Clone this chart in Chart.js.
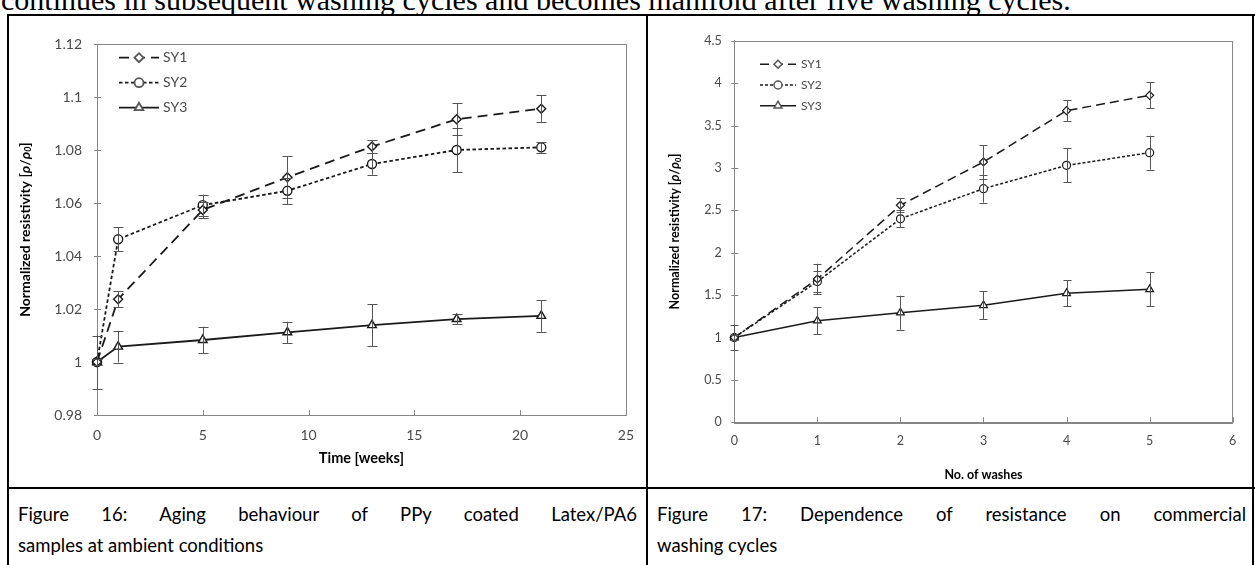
<!DOCTYPE html>
<html>
<head>
<meta charset="utf-8">
<script src="https://cdn.jsdelivr.net/npm/chart.js@4/dist/chart.umd.min.js"></script>
<style>
  html, body { margin: 0; padding: 0; background: #fff; }
  body { width: 1255px; height: 565px; position: relative; overflow: hidden; font-family: Lato, sans-serif; }
  .rule { position: absolute; background: #000; }
  #lead { position: absolute; left: 1px; top: -15px; font: 30px/30px "Liberation Serif", serif; white-space: nowrap; color: #000; }
  .cell { position: absolute; }
  .cell canvas { display: block; }
  .cap { position: absolute; font: 18.5px/31px Lato, sans-serif; color: #000; }
  .cap .l1 { text-align: justify; text-align-last: justify; }
</style>
</head>
<body>
<div id="lead">continues in subsequent washing cycles and becomes manifold after five washing cycles.</div>

<!-- table rules -->
<div class="rule" style="left:7px;top:14px;width:1248px;height:2px"></div>
<div class="rule" style="left:7px;top:14px;width:2px;height:560px"></div>
<div class="rule" style="left:646px;top:14px;width:2px;height:560px"></div>
<div class="rule" style="left:1252px;top:14px;width:2px;height:560px"></div>
<div class="rule" style="left:7px;top:487px;width:1248px;height:1.5px"></div>

<div class="cell" style="left:9px;top:16px;width:637px;height:471px"><canvas id="aging" width="637" height="471"></canvas></div>
<div class="cell" style="left:648px;top:16px;width:604px;height:471px"><canvas id="wash" width="604" height="471"></canvas></div>

<div class="cap" style="left:18px;top:499px;width:619px">
  <div class="l1">Figure 16: Aging behaviour of PPy coated Latex/PA6</div>
  <div>samples at ambient conditions</div>
</div>
<div class="cap" style="left:657px;top:499px;width:589px">
  <div class="l1">Figure 17: Dependence of resistance on commercial</div>
  <div>washing cycles</div>
</div>

<script>
// ---- Figure 16: ageing at ambient conditions ----
const weeks        = [0, 1, 5, 9, 13, 17, 21];
const agingSY1     = [1.000, 1.0237, 1.0574, 1.0697, 1.0813, 1.0916, 1.0956];
const agingSY1Err  = [0.001, 0.003, 0.003, 0.008, 0.0025, 0.006, 0.005];
const agingSY2     = [1.000, 1.0463, 1.0592, 1.0646, 1.0747, 1.0800, 1.0810];
const agingSY2Err  = [0.001, 0.0045, 0.004, 0.005, 0.004, 0.0083, 0.002];
const agingSY3     = [1.000, 1.0058, 1.0083, 1.0112, 1.0139, 1.0162, 1.0174];
const agingSY3Err  = [0.010, 0.006, 0.005, 0.004, 0.008, 0.002, 0.006];
const agingXTicks  = [0, 5, 10, 15, 20, 25];
const agingYTicks  = [0.98, 1, 1.02, 1.04, 1.06, 1.08, 1.1, 1.12];

// ---- Figure 17: commercial washing cycles ----
const washes       = [0, 1, 2, 3, 4, 5];
const washSY1      = [1.0, 1.69, 2.56, 3.07, 3.675, 3.856];
const washSY1Err   = [0.03, 0.18, 0.08, 0.2, 0.12, 0.155];
const washSY2      = [1.0, 1.66, 2.40, 2.755, 3.03, 3.18];
const washSY2Err   = [0.03, 0.12, 0.1, 0.165, 0.2, 0.2];
const washSY3      = [1.0, 1.198, 1.293, 1.38, 1.521, 1.568];
const washSY3Err   = [0.15, 0.16, 0.2, 0.165, 0.153, 0.2];
const washXTicks   = [0, 1, 2, 3, 4, 5, 6];
const washYTicks   = [0, 0.5, 1, 1.5, 2, 2.5, 3, 3.5, 4, 4.5];

const seriesNames  = ['SY1', 'SY2', 'SY3'];

const INK = '#1a1a1a';
const AXIS = '#868686';
const LABEL = '#4a4a4a';

const fmt = v => String(Math.round(v * 1000) / 1000);

// vertical error bars with caps, drawn over the series
const errorBars = {
  id: 'errorBars',
  afterDatasetsDraw(chart, args, opts) {
    const { ctx } = chart;
    const ys = chart.scales.y;
    ctx.save();
    ctx.strokeStyle = opts.color;
    ctx.lineWidth = 1;
    chart.data.datasets.forEach((ds, di) => {
      const meta = chart.getDatasetMeta(di);
      meta.data.forEach((pt, i) => {
        const v = ds.data[i].y, e = ds.errors[i];
        const x = Math.round(pt.x) + 0.5;
        const yt = ys.getPixelForValue(v + e), yb = ys.getPixelForValue(v - e);
        ctx.beginPath();
        ctx.moveTo(x, yt); ctx.lineTo(x, yb);
        ctx.moveTo(x - opts.cap, Math.round(yt) + 0.5); ctx.lineTo(x + opts.cap, Math.round(yt) + 0.5);
        ctx.moveTo(x - opts.cap, Math.round(yb) + 0.5); ctx.lineTo(x + opts.cap, Math.round(yb) + 0.5);
        ctx.stroke();
      });
    });
    ctx.restore();
  }
};

// plot frame and tick marks
const frame = {
  id: 'frame',
  beforeDatasetsDraw(chart, args, opts) {
    const { ctx, chartArea: a } = chart;
    ctx.save();
    ctx.strokeStyle = AXIS;
    ctx.lineWidth = 1;
    ctx.strokeRect(Math.round(a.left) + 0.5, Math.round(a.top) + 0.5,
                   Math.round(a.right - a.left), Math.round(a.bottom - a.top));
    ctx.beginPath();
    chart.scales.x.ticks.forEach(t => {
      const x = Math.round(chart.scales.x.getPixelForValue(t.value)) + 0.5;
      ctx.moveTo(x, a.bottom); ctx.lineTo(x, a.bottom - 5);
    });
    chart.scales.y.ticks.forEach(t => {
      const y = Math.round(chart.scales.y.getPixelForValue(t.value)) + 0.5;
      ctx.moveTo(a.left - 3, y); ctx.lineTo(a.left + 4, y);
    });
    ctx.stroke();
    ctx.restore();
  }
};

// legend: dashed line sample with the marker in its middle
const lineLegend = {
  id: 'lineLegend',
  afterDraw(chart, args, o) {
    const { ctx, chartArea: a } = chart;
    ctx.save();
    chart.data.datasets.forEach((ds, i) => {
      const x0 = a.left + o.dx, y = a.top + o.dy + i * o.step;
      ctx.strokeStyle = INK;
      ctx.lineWidth = ds.borderWidth;
      ctx.setLineDash(ds.borderDash || []);
      ctx.beginPath(); ctx.moveTo(x0, y); ctx.lineTo(x0 + o.len, y); ctx.stroke();
      ctx.setLineDash([]);
      ctx.fillStyle = '#fff';
      ctx.strokeStyle = '#555';
      Chart.helpers.drawPoint(ctx, { pointStyle: ds.pointStyle, radius: ds.pointRadius, rotation: 0, borderWidth: 1 },
                              x0 + o.len / 2, y);
      ctx.fillStyle = LABEL;
      ctx.font = o.size + 'px Lato';
      ctx.textBaseline = 'middle';
      ctx.textAlign = 'left';
      ctx.fillText(ds.label, x0 + o.len + o.gap, y);
    });
    ctx.restore();
  }
};

// rotated y title with italic rho and subscript 0
const rhoTitle = {
  id: 'rhoTitle',
  afterDraw(chart, args, o) {
    const { ctx, chartArea: a } = chart;
    const s = o.size;
    const parts = [
      { t: 'Normalized resistivity [', f: `bold ${s}px Lato` },
      { t: 'ρ', f: `italic bold ${s}px Lato` },
      { t: '/', f: `bold ${s}px Lato` },
      { t: 'ρ', f: `italic bold ${s}px Lato` },
      { t: '0', f: `italic bold ${Math.round(s * 0.65)}px Lato`, sub: s * 0.25 },
      { t: ']', f: `bold ${s}px Lato` }
    ];
    ctx.save();
    let total = 0;
    parts.forEach(p => { ctx.font = p.f; p.w = ctx.measureText(p.t).width; total += p.w; });
    ctx.translate(a.left - o.offset, (a.top + a.bottom) / 2 + (o.shift || 0));
    ctx.rotate(-Math.PI / 2);
    ctx.fillStyle = '#000';
    ctx.textBaseline = 'middle';
    ctx.textAlign = 'left';
    let x = -total / 2;
    parts.forEach(p => { ctx.font = p.f; ctx.fillText(p.t, x, p.sub || 0); x += p.w; });
    ctx.restore();
  }
};

function series(label, xs, ys, errs, style) {
  return Object.assign({
    label,
    data: xs.map((x, i) => ({ x, y: ys[i] })),
    errors: errs,
    borderColor: INK,
    pointBorderColor: INK,
    pointBackgroundColor: '#fff',
    clip: false,
    tension: 0
  }, style);
}

function makeChart(id, cfg) {
  return new Chart(document.getElementById(id), {
    type: 'line',
    data: { datasets: cfg.datasets },
    options: {
      responsive: false,
      animation: false,
      events: [],
      layout: { padding: cfg.padding },
      plugins: {
        legend: { display: false },
        tooltip: { enabled: false },
        errorBars: { color: '#555', cap: cfg.cap },
        lineLegend: cfg.legend,
        rhoTitle: cfg.ytitle
      },
      scales: {
        x: {
          type: 'linear', min: cfg.xTicks[0], max: cfg.xTicks[cfg.xTicks.length - 1],
          afterBuildTicks: s => { s.ticks = cfg.xTicks.map(v => ({ value: v })); },
          afterFit: s => { s.height = cfg.xHeight; },
          grid: { display: false, drawTicks: false },
          border: { display: true, color: AXIS, width: 1 },
          ticks: { color: LABEL, font: { family: 'Lato', size: cfg.tickSize }, padding: cfg.xPad, maxRotation: 0, callback: fmt },
          title: { display: true, text: cfg.xTitle, color: '#000',
                   font: { family: 'Lato', size: cfg.titleSize, weight: 'bold' },
                   padding: { top: 0, bottom: cfg.xTitlePad } }
        },
        y: {
          type: 'linear', min: cfg.yTicks[0], max: cfg.yTicks[cfg.yTicks.length - 1],
          afterBuildTicks: s => { s.ticks = cfg.yTicks.map(v => ({ value: v })); },
          afterFit: s => { s.width = cfg.yWidth; },
          grid: { display: false, drawTicks: false },
          border: { display: true, color: AXIS, width: 1 },
          ticks: { color: LABEL, font: { family: 'Lato', size: cfg.tickSize }, padding: cfg.yPad, callback: fmt }
        }
      }
    },
    plugins: [frame, errorBars, lineLegend, rhoTitle]
  });
}

makeChart('aging', {
  datasets: [
    series(seriesNames[0], weeks, agingSY1, agingSY1Err, { borderWidth: 1.8, borderDash: [10, 6], pointStyle: 'rectRot', pointRadius: 4.5, pointBorderWidth: 1.4 }),
    series(seriesNames[1], weeks, agingSY2, agingSY2Err, { borderWidth: 1.8, borderDash: [3.5, 2.5], pointStyle: 'circle', pointRadius: 4.5, pointBorderWidth: 1.4 }),
    series(seriesNames[2], weeks, agingSY3, agingSY3Err, { borderWidth: 1.8, pointStyle: 'triangle', pointRadius: 5, pointBorderWidth: 1.4 })
  ],
  xTicks: agingXTicks, yTicks: agingYTicks,
  padding: { left: 0, top: 28, right: 18, bottom: 0 },
  yWidth: 88, xHeight: 72,
  tickSize: 14, titleSize: 14.5, xPad: 12, yPad: 15,
  xTitle: 'Time [weeks]', xTitlePad: 20.3,
  cap: 5,
  legend: { dx: 22, dy: 13.7, step: 25, len: 40, gap: 4, size: 14 },
  ytitle: { offset: 72, size: 14 }
});

makeChart('wash', {
  datasets: [
    series(seriesNames[0], washes, washSY1, washSY1Err, { borderWidth: 1.5, borderDash: [9, 5], pointStyle: 'rectRot', pointRadius: 4, pointBorderWidth: 1.2 }),
    series(seriesNames[1], washes, washSY2, washSY2Err, { borderWidth: 1.5, borderDash: [3, 2], pointStyle: 'circle', pointRadius: 4, pointBorderWidth: 1.2 }),
    series(seriesNames[2], washes, washSY3, washSY3Err, { borderWidth: 1.5, pointStyle: 'triangle', pointRadius: 4.5, pointBorderWidth: 1.2 })
  ],
  xTicks: washXTicks, yTicks: washYTicks,
  padding: { left: 0, top: 24.7, right: 19.3, bottom: 0 },
  yWidth: 86.3, xHeight: 64.7,
  tickSize: 12.5, titleSize: 12.5, xPad: 11, yPad: 12.5,
  xTitle: 'No. of washes', xTitlePad: 4.5,
  cap: 4,
  legend: { dx: 25.7, dy: 23.6, step: 20.7, len: 36, gap: 5, size: 12 },
  ytitle: { offset: 59, size: 12.5 }
});
</script>
</body>
</html>
